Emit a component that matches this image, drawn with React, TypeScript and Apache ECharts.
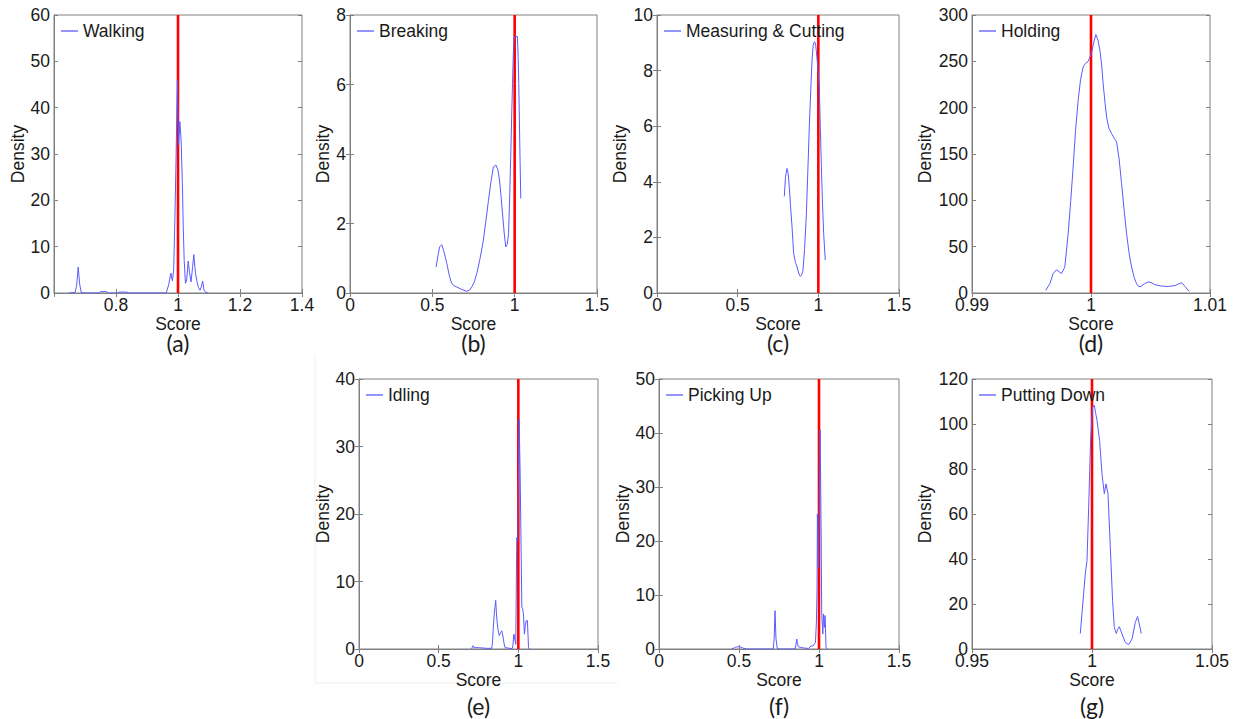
import React, { useEffect, useRef } from 'react';
import * as echarts from 'echarts';

// ---------- data (score, density) ----------
const walking: [number, number][] = [
  [0.648, 0], [0.668, 0.1], [0.673, 1.6], [0.678, 5.6], [0.683, 1.8], [0.688, 0.1], [0.7, 0],
  [0.745, 0], [0.75, 0.3], [0.77, 0.3], [0.775, 0], [0.805, 0], [0.81, 0.2], [0.835, 0.2], [0.84, 0],
  [0.962, 0], [0.97, 1.8], [0.977, 4.3], [0.982, 2.6], [0.986, 5], [0.99, 16], [0.994, 30], [0.998, 46],
  [1.002, 32], [1.006, 37], [1.01, 33], [1.014, 24], [1.017, 14], [1.02, 7], [1.024, 2.1], [1.028, 2.8],
  [1.033, 6.9], [1.037, 4.5], [1.042, 2.4], [1.047, 5.5], [1.051, 8.3], [1.056, 4.5], [1.061, 2.5],
  [1.066, 1.2], [1.071, 0.6], [1.076, 1.5], [1.0795, 2.6], [1.084, 0.6], [1.09, 0.1], [1.098, 0],
];

const breaking: [number, number][] = [
  [0.523, 0.75], [0.535, 1.1], [0.545, 1.33], [0.557, 1.39], [0.57, 1.2], [0.588, 0.85], [0.603, 0.5],
  [0.618, 0.27], [0.635, 0.2], [0.649, 0.17], [0.68, 0.1], [0.709, 0.05], [0.725, 0.08], [0.739, 0.17],
  [0.755, 0.32], [0.77, 0.56], [0.79, 1.0], [0.81, 1.52], [0.826, 2.1], [0.841, 2.67], [0.856, 3.2],
  [0.871, 3.63], [0.886, 3.68], [0.898, 3.55], [0.908, 3.25], [0.918, 2.75], [0.928, 2.19], [0.937, 1.7],
  [0.946, 1.33], [0.955, 1.4], [0.963, 1.71], [0.97, 2.8], [0.977, 4.11], [0.982, 5.1], [0.987, 6.03],
  [0.992, 6.9], [0.997, 7.38], [1.007, 7.38], [1.017, 7.38], [1.021, 6.8], [1.025, 6.03], [1.031, 4.3],
  [1.037, 2.72],
];

const measuring: [number, number][] = [
  [0.789, 3.48], [0.797, 4.2], [0.806, 4.48], [0.813, 4.3], [0.82, 3.82], [0.828, 3.1], [0.837, 2.38],
  [0.847, 1.42], [0.858, 1.1], [0.868, 0.94], [0.878, 0.72], [0.888, 0.6], [0.897, 0.65], [0.905, 0.82],
  [0.915, 1.6], [0.926, 2.86], [0.935, 4.4], [0.944, 5.98], [0.953, 7.3], [0.961, 8.38], [0.968, 8.9],
  [0.975, 9.04], [0.982, 9.0], [0.988, 8.68], [0.997, 8.1], [1.006, 7.42], [1.012, 6.0], [1.019, 4.54],
  [1.026, 3.2], [1.033, 2.14], [1.043, 1.18],
];

const holding: [number, number][] = [
  [0.9962, 2.9], [0.99654, 10], [0.99682, 21], [0.9971, 25], [0.99752, 21], [0.9978, 28], [0.99808, 64],
  [0.9983, 100], [0.9985, 136], [0.9987, 175], [0.99892, 208], [0.99912, 230], [0.99934, 244],
  [0.99955, 248], [0.99976, 250], [1.00005, 259], [1.00022, 270], [1.00041, 279], [1.00058, 273],
  [1.00075, 262], [1.0009, 245], [1.00102, 226], [1.00118, 205], [1.00131, 190], [1.0015, 178],
  [1.00173, 172], [1.00195, 167], [1.00215, 163], [1.00236, 145], [1.00257, 118], [1.00278, 90],
  [1.00299, 64], [1.0032, 43], [1.00341, 28], [1.00362, 17], [1.00383, 10], [1.004, 7], [1.00419, 7],
  [1.0045, 10], [1.00481, 12], [1.0051, 11], [1.00537, 9], [1.0059, 7.5], [1.00649, 7], [1.00706, 8],
  [1.0074, 10], [1.00762, 11], [1.0079, 7], [1.00823, 2],
];

const idling: [number, number][] = [
  [0.707, 0], [0.712, 0.3], [0.717, 0.5], [0.722, 0.2], [0.75, 0.2], [0.8, 0.1], [0.833, 0.1],
  [0.838, 1], [0.843, 3.2], [0.85, 5.5], [0.858, 7.2], [0.862, 5.5], [0.868, 3.7], [0.875, 2.5],
  [0.881, 2], [0.888, 2.4], [0.896, 2.7], [0.901, 2.2], [0.906, 1.5], [0.912, 0.6], [0.917, 0.2],
  [0.96, 0.05], [0.965, 0.3], [0.972, 2.2], [0.975, 2.2], [0.98, 1.2], [0.984, 0.7], [0.99, 16.5],
  [0.996, 16], [1.005, 34.1], [1.011, 26.5], [1.016, 17.5], [1.022, 6.2], [1.027, 6], [1.032, 5.2],
  [1.038, 2.2], [1.044, 3.5], [1.049, 4.2], [1.057, 4.2], [1.064, 0.2], [1.07, 0],
];

const pickingUp: [number, number][] = [
  [0.454, 0], [0.47, 0.2], [0.48, 0.35], [0.495, 0.43], [0.51, 0.35], [0.527, 0.15], [0.548, 0],
  [0.714, 0], [0.72, 2], [0.725, 7.1], [0.731, 2], [0.739, 0.1], [0.75, 0], [0.851, 0], [0.856, 0.8],
  [0.861, 1.85], [0.866, 1], [0.871, 0.4], [0.885, 0.3], [0.902, 0.2], [0.934, 0.1], [0.942, 0.3],
  [0.949, 0.55], [0.961, 0.55], [0.971, 0.93], [0.978, 1.2], [0.984, 5.2], [0.988, 11.4], [0.99, 25],
  [0.995, 15], [1.001, 25], [1.007, 40.6], [1.013, 22.6], [1.017, 6.5], [1.024, 2.8], [1.028, 6.5],
  [1.034, 4], [1.038, 6.2], [1.044, 0.3], [1.053, 0],
];

const puttingDown: [number, number][] = [
  [0.99513, 6.9], [0.99651, 24.5], [0.99721, 33.4], [0.99792, 39.3], [0.99861, 63], [0.99942, 92.7],
  [1.00026, 107.5], [1.00096, 108.3], [1.0015, 105], [1.00208, 101.6], [1.00317, 92.7], [1.00417, 77.9],
  [1.00513, 69], [1.00583, 73.4], [1.00667, 69], [1.00763, 45.2], [1.00858, 21.5], [1.00929, 9.6],
  [1.01013, 6.9], [1.01075, 8.8], [1.01138, 9.9], [1.0125, 6.7], [1.01388, 2.9], [1.01525, 1.9],
  [1.01667, 4.5], [1.01804, 11.8], [1.019, 14.4], [1.01971, 11.1], [1.02054, 6.9],
];

const activityNames = ['Walking', 'Breaking', 'Measuring & Cutting', 'Holding', 'Idling', 'Picking Up', 'Putting Down'];
const captions = ['(a)', '(b)', '(c)', '(d)', '(e)', '(f)', '(g)'];
const seriesData = [walking, breaking, measuring, holding, idling, pickingUp, puttingDown];
const referenceScore = 1;

// axis ranges per panel: [xMin, xMax, xInterval, yMax, yInterval]
const xMins = [0.6, 0, 0, 0.99, 0, 0, 0.95];
const xMaxs = [1.4, 1.5, 1.5, 1.01, 1.5, 1.5, 1.05];
const xSteps = [0.2, 0.5, 0.5, 0.01, 0.5, 0.5, 0.05];
const yMaxs = [60, 8, 10, 300, 40, 50, 120];
const ySteps = [10, 2, 2, 50, 10, 10, 20];
const hiddenMinLabel = [true, false, false, false, false, false, false];

// ---------- layout ----------
const layout = [
  { left: 54, top: 15, width: 248, height: 278, yGap: 27 },
  { left: 350, top: 15, width: 247, height: 278, yGap: 16.5 },
  { left: 657, top: 15, width: 242, height: 278, yGap: 28 },
  { left: 972, top: 15, width: 238, height: 278, yGap: 38 },
  { left: 359, top: 379, width: 239, height: 270, yGap: 26 },
  { left: 659, top: 379, width: 240, height: 270, yGap: 27 },
  { left: 972, top: 379, width: 240, height: 270, yGap: 38 },
];

const FONT = "'Liberation Sans', Arial, sans-serif";
const CAPTION_FONT = "Lato, 'Open Sans', sans-serif";
const GRAY = '#808080';
const TXT = '#1a1a1a';
const BLUE = '#5a5aff';
const RED = '#ff0000';
const FS = 17.5;

function fmt(v: number) {
  return String(+v.toFixed(4));
}

function buildOption() {
  const grid: any[] = [];
  const xAxis: any[] = [];
  const yAxis: any[] = [];
  const series: any[] = [];
  const legend: any[] = [];
  const graphic: any[] = [];

  layout.forEach((l, i) => {
    grid.push({
      left: l.left, top: l.top, width: l.width, height: l.height,
      show: true, borderColor: GRAY, borderWidth: 1, backgroundColor: 'transparent',
    });
    const tick = { show: true, inside: true, length: 4, lineStyle: { color: GRAY, width: 1 } };
    const xMin = xMins[i];
    xAxis.push({
      type: 'value', gridIndex: i, position: 'bottom',
      min: xMin, max: xMaxs[i], interval: xSteps[i],
      axisLine: { show: true, lineStyle: { color: GRAY, width: 1 } },
      axisTick: tick,
      splitLine: { show: false },
      axisLabel: {
        color: TXT, fontSize: FS, fontFamily: FONT, margin: 3,
        formatter: (v: number) => (hiddenMinLabel[i] && Math.abs(v - xMin) < 1e-9 ? '' : fmt(v)),
      },
      name: 'Score', nameLocation: 'middle', nameGap: 21,
      nameTextStyle: { color: TXT, fontSize: FS, fontFamily: FONT },
    });
    xAxis.push({
      type: 'value', gridIndex: i, position: 'top',
      min: xMin, max: xMaxs[i], interval: xSteps[i],
      axisLine: { show: false }, axisTick: tick, axisLabel: { show: false }, splitLine: { show: false },
    });
    yAxis.push({
      type: 'value', gridIndex: i, position: 'left',
      min: 0, max: yMaxs[i], interval: ySteps[i],
      axisLine: { show: true, lineStyle: { color: GRAY, width: 1 } },
      axisTick: tick,
      splitLine: { show: false },
      axisLabel: { color: TXT, fontSize: FS, fontFamily: FONT, margin: 4, formatter: (v: number) => fmt(v) },
      name: 'Density', nameLocation: 'middle', nameGap: l.yGap, nameRotate: 90,
      nameTextStyle: { color: TXT, fontSize: FS, fontFamily: FONT },
    });
    yAxis.push({
      type: 'value', gridIndex: i, position: 'right',
      min: 0, max: yMaxs[i], interval: ySteps[i],
      axisLine: { show: false }, axisTick: tick, axisLabel: { show: false }, splitLine: { show: false },
    });

    series.push({
      type: 'line', name: 'ref' + i, xAxisIndex: 2 * i, yAxisIndex: 2 * i,
      data: [[referenceScore, 0], [referenceScore, yMaxs[i]]],
      symbol: 'none', silent: true, z: 2,
      lineStyle: { color: RED, width: 2.6 }, itemStyle: { color: RED },
    });
    series.push({
      type: 'line', name: activityNames[i], xAxisIndex: 2 * i, yAxisIndex: 2 * i,
      data: seriesData[i], symbol: 'none', showSymbol: false, smooth: false, z: 3,
      lineStyle: { color: BLUE, width: 1 }, itemStyle: { color: BLUE },
    });

    legend.push({
      data: [activityNames[i]],
      left: l.left + 7, top: l.top + 7,
      padding: 0, icon: 'rect', itemWidth: 17, itemHeight: 1.3,
      selectedMode: false,
      textStyle: { color: TXT, fontSize: FS, fontFamily: FONT },
    });

    graphic.push({
      type: 'text',
      x: l.left + l.width / 2,
      y: i < 4 ? 343 : 706,
      style: {
        text: captions[i], fill: TXT, fontSize: 23, fontFamily: CAPTION_FONT,
        textAlign: 'center', textVerticalAlign: 'middle', align: 'center', verticalAlign: 'middle',
      },
    });
  });

  // faint frame left around panel (e) in the source image
  graphic.push({
    type: 'polyline',
    shape: { points: [[315, 354], [315, 683], [618, 683]] },
    style: { stroke: '#efefef', lineWidth: 1, fill: null },
    silent: true,
  });

  return { animation: false, backgroundColor: '#ffffff', grid, xAxis, yAxis, series, legend, graphic };
}

export default function App() {
  const ref = useRef<HTMLDivElement>(null);
  useEffect(() => {
    if (!ref.current) return;
    const chart = echarts.init(ref.current, undefined, { renderer: 'svg' });
    chart.setOption(buildOption() as any);
    return () => chart.dispose();
  }, []);
  return (
    <div
      ref={ref}
      style={{ position: 'absolute', left: 0, top: 0, width: 1237, height: 719, background: '#fff' }}
    />
  );
}
